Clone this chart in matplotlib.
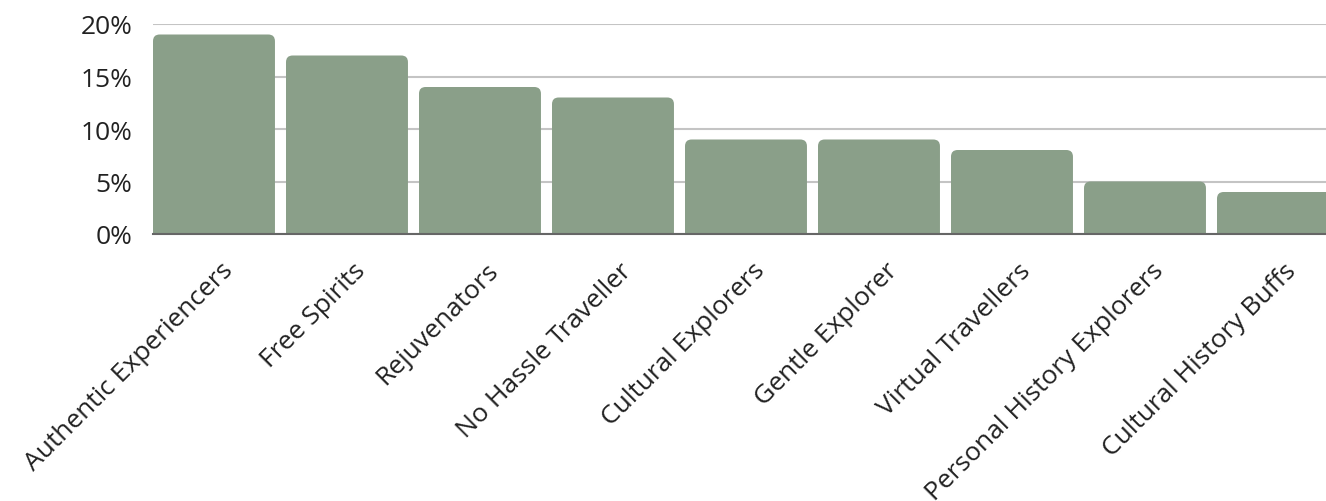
import matplotlib.pyplot as plt
import matplotlib.transforms as mtransforms
from matplotlib import font_manager as fm
from matplotlib.patches import FancyBboxPatch
from matplotlib.ticker import FuncFormatter

# the variable Open Sans file renders condensed, so point at the static regular file
regular = [f.fname for f in fm.fontManager.ttflist if f.fname.endswith('OpenSans-Regular.ttf')]
if regular:
    font = fm.FontProperties(fname=regular[0], size=19)
else:
    font = fm.FontProperties(family='Noto Sans', size=19)

segments = ['Authentic Experiencers', 'Free Spirits', 'Rejuvenators', 'No Hassle Traveller',
            'Cultural Explorers', 'Gentle Explorer', 'Virtual Travellers',
            'Personal History Explorers', 'Cultural History Buffs']
shares = [19, 17, 14, 13, 9, 9, 8, 5, 4]

bar_color = '#8a9f89'
width = 0.917

fig = plt.figure(figsize=(13.26, 5.02), dpi=100)
W, H = 1326, 502
ax = fig.add_axes([153 / W, (H - 235) / H, (W - 153) / W, 210 / H])

ax.set_ylim(0, 20)
ax.set_xlim(-width / 2, -width / 2 + (W - 153) / 133)

# y data units per x data unit at equal pixels
aspect = (20 / 210) / (1 / 133)
r = 0.05
for i, v in enumerate(shares):
    p = FancyBboxPatch((i - width / 2, -2), width, v + 2,
                       boxstyle=f'round,pad=0,rounding_size={r}',
                       mutation_aspect=aspect, fc=bar_color, ec='none', zorder=3)
    ax.add_patch(p)

ax.set_yticks([0, 5, 10, 15, 20])
ax.yaxis.set_major_formatter(FuncFormatter(lambda v, _: f'{v:.0f}%'))
ax.grid(axis='y', color='#c4c4c4', linewidth=1.5, zorder=0)
ax.set_axisbelow(True)

for s in ['top', 'right', 'left']:
    ax.spines[s].set_visible(False)
ax.spines['bottom'].set_color('#666666')
ax.spines['bottom'].set_linewidth(1.5)
ax.spines['bottom'].set_zorder(4)

ax.tick_params(axis='y', length=0, pad=15, labelcolor='#222222')
ax.tick_params(axis='x', length=0, pad=14, labelcolor='#222222')
for lab in ax.get_yticklabels():
    lab.set_fontproperties(font)

ax.set_xticks(range(len(segments)))
ax.set_xticklabels(segments, rotation=45, ha='right', va='center', rotation_mode='anchor',
                   fontproperties=font)
offset = mtransforms.ScaledTranslation(15 / 100, -13 / 100, fig.dpi_scale_trans)
for lab in ax.get_xticklabels():
    lab.set_transform(lab.get_transform() + offset)

fig.savefig('out.png', dpi=100)
